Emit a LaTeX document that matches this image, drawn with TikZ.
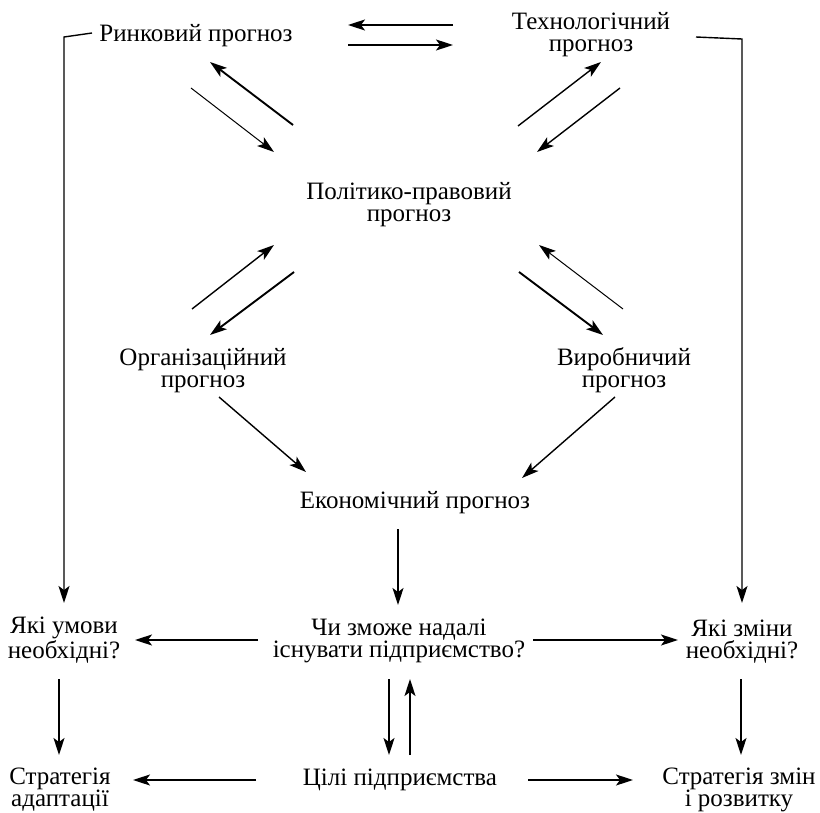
\documentclass[tikz,border=0pt]{standalone}
\usepackage{fontspec}
\setmainfont{Liberation Serif}
\usetikzlibrary{arrows.meta}

\tikzset{
  prog/.style={align=center, inner sep=0pt, anchor=base, font=\fontsize{25}{22}\selectfont},
  arr/.style={-{Stealth[length=17pt,width=11pt,inset=4pt]}, line width=1.4pt},
  thinarr/.style={arr, line width=1pt},
  boldarr/.style={arr, line width=1.9pt},
}

\begin{document}
\begin{tikzpicture}[x=1pt, y=-1pt]
    \useasboundingbox (0,0) rectangle (820,813);

    % Forecasts (base = last line)
    \node[prog] (rynok) at (196,42) {Ринковий прогноз};
    \node[prog] (tekh) at (591,52) {Технологічний\\прогноз};
    \node[prog] (polit) at (409,222) {Політико-правовий\\прогноз};
    \node[prog] (org) at (203,387) {Організаційний\\прогноз};
    \node[prog] (vyrob) at (624,387) {Виробничий\\прогноз};
    \node[prog] (ekon) at (415,508) {Економічний прогноз};

    % Questions and strategies
    \node[prog] (chy) at (399,657) {Чи зможе надалі\\існувати підприємство?};
    \node[prog] (umovy) at (64,658) {Які умови\\необхідні?};
    \node[prog] (zminy) at (742,658) {Які зміни\\необхідні?};
    \node[prog] (adapt) at (60,806) {Стратегія\\адаптації};
    \node[prog] (tsili) at (400,785) {Цілі підприємства};
    \node[prog] (rozv) at (739,806) {Стратегія змін\\і розвитку};

    % Arrow ends
    \coordinate (rt-a) at (453,25);  \coordinate (rt-b) at (348,25);
    \coordinate (tr-a) at (348,45);  \coordinate (tr-b) at (453,45);
    \coordinate (pr-a) at (293,125); \coordinate (pr-b) at (210,62);
    \coordinate (rp-a) at (191,88);  \coordinate (rp-b) at (274,152);
    \coordinate (pt-a) at (518,126); \coordinate (pt-b) at (601,62);
    \coordinate (tp-a) at (620,88);  \coordinate (tp-b) at (537,152);
    \coordinate (op-a) at (192,309); \coordinate (op-b) at (274,245);
    \coordinate (po-a) at (294,272); \coordinate (po-b) at (210,335);
    \coordinate (vp-a) at (623,309); \coordinate (vp-b) at (539,245);
    \coordinate (pv-a) at (519,272); \coordinate (pv-b) at (603,335);
    \coordinate (oe-a) at (219,397); \coordinate (oe-b) at (306,472);
    \coordinate (ve-a) at (615,397); \coordinate (ve-b) at (522,478);
    \coordinate (ec-a) at (398,529); \coordinate (ec-b) at (398,605);
    \coordinate (cu-a) at (258,640); \coordinate (cu-b) at (135,640);
    \coordinate (cz-a) at (533,640); \coordinate (cz-b) at (678,640);
    \coordinate (ua-a) at (59,679);  \coordinate (ua-b) at (59,755);
    \coordinate (zr-a) at (741,679); \coordinate (zr-b) at (741,755);
    \coordinate (ct-a) at (389,679); \coordinate (ct-b) at (389,755);
    \coordinate (tc-a) at (410,755); \coordinate (tc-b) at (410,679);
    \coordinate (ta-a) at (256,780); \coordinate (ta-b) at (133,780);
    \coordinate (tz-a) at (528,780); \coordinate (tz-b) at (633,780);
    \coordinate (ru-a) at (92,33);   \coordinate (ru-b) at (64,603);
    \coordinate (tz2-a) at (696,37); \coordinate (tz2-b) at (742,603);

    % Links between forecasts
    \draw[arr] (rt-a) -- (rt-b);
    \draw[arr] (tr-a) -- (tr-b);
    \draw[boldarr] (pr-a) -- (pr-b);
    \draw[thinarr] (rp-a) -- (rp-b);
    \draw[arr] (pt-a) -- (pt-b);
    \draw[arr] (tp-a) -- (tp-b);
    \draw[arr] (op-a) -- (op-b);
    \draw[boldarr] (po-a) -- (po-b);
    \draw[thinarr] (vp-a) -- (vp-b);
    \draw[boldarr] (pv-a) -- (pv-b);
    \draw[arr] (oe-a) -- (oe-b);
    \draw[arr] (ve-a) -- (ve-b);

    % Side lines
    \draw[arr] (ru-a) -- (64,37) -- (ru-b);
    \draw[arr] (tz2-a) -- (742,39) -- (tz2-b);

    % Lower part
    \draw[arr] (ec-a) -- (ec-b);
    \draw[arr] (cu-a) -- (cu-b);
    \draw[arr] (cz-a) -- (cz-b);
    \draw[arr] (ua-a) -- (ua-b);
    \draw[arr] (zr-a) -- (zr-b);
    \draw[arr] (ct-a) -- (ct-b);
    \draw[arr] (tc-a) -- (tc-b);
    \draw[arr] (ta-a) -- (ta-b);
    \draw[arr] (tz-a) -- (tz-b);
\end{tikzpicture}
\end{document}
